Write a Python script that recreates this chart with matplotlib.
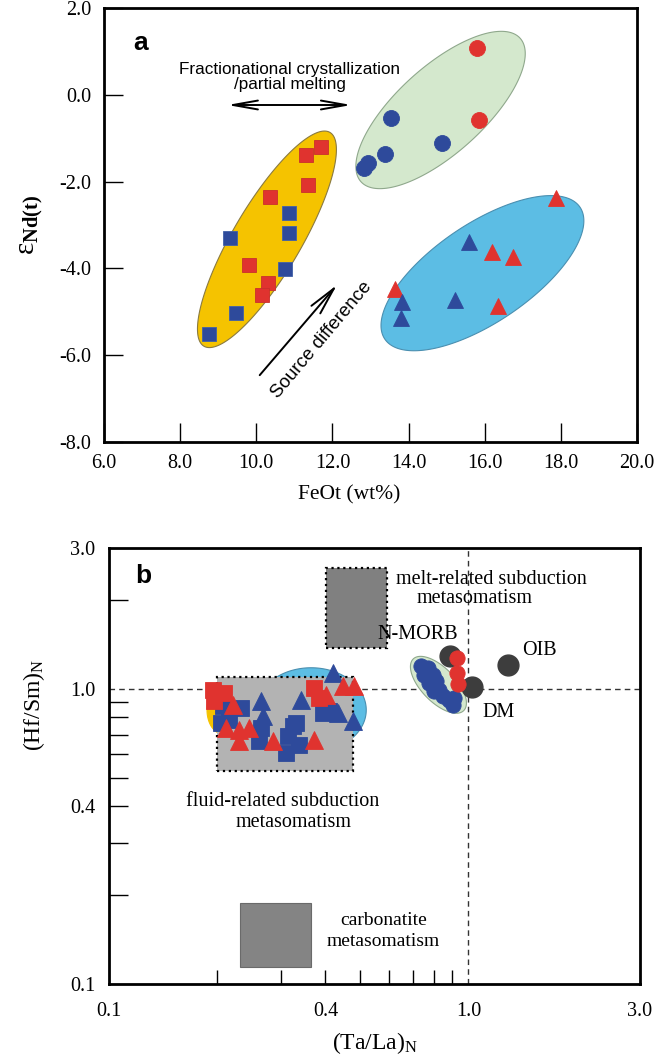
import numpy as np
import matplotlib
matplotlib.use("Agg")
import matplotlib.pyplot as plt
from matplotlib.patches import Polygon, Rectangle
from matplotlib.ticker import FixedLocator, FixedFormatter, NullFormatter

plt.rcParams['font.family'] = ['Liberation Serif', 'DejaVu Serif']
plt.rcParams['mathtext.fontset'] = 'custom'
plt.rcParams['mathtext.rm'] = 'Liberation Serif'
plt.rcParams['mathtext.it'] = 'Liberation Serif:italic'
plt.rcParams['mathtext.bf'] = 'Liberation Serif:bold'

RED = '#e0332f'
BLUE = '#2e4a9b'
YELLOW = '#f5c300'
GREEN = '#d4e8cd'
CYAN = '#5cbde4'
DARK = '#3d3d3d'

# ---------------- Panel a: FeOt vs eNd(t) ----------------
sq_red_feo = [11.69, 11.30, 11.35, 10.36, 9.82, 10.31, 10.16]
sq_red_end = [-1.20, -1.39, -2.08, -2.35, -3.92, -4.34, -4.61]
sq_blue_feo = [10.87, 10.87, 9.31, 10.76, 9.48, 8.75]
sq_blue_end = [-2.72, -3.18, -3.30, -4.01, -5.03, -5.51]
ci_red_feo = [15.80, 15.86]
ci_red_end = [1.08, -0.58]
ci_blue_feo = [13.54, 14.87, 13.39, 12.94, 12.83]
ci_blue_end = [-0.54, -1.12, -1.36, -1.57, -1.69]
tr_red_feo = [17.87, 16.20, 16.74, 13.65, 16.34]
tr_red_end = [-2.38, -3.62, -3.73, -4.48, -4.87]
tr_blue_feo = [15.60, 13.82, 15.21, 13.79]
tr_blue_end = [-3.39, -4.77, -4.73, -5.14]

a_xticks = [6.0, 8.0, 10.0, 12.0, 14.0, 16.0, 18.0, 20.0]
a_yticks = [-8.0, -6.0, -4.0, -2.0, 0.0, 2.0]

# field outlines: centre, two conjugate half-axes (data units)
field_yellow = ((10.28, -3.33), (1.64, 2.47), (0.80, -0.35))
field_green = ((14.84, -0.35), (2.06, 1.68), (0.84, -0.68))
field_cyan = ((15.94, -4.11), (2.535, 1.553), (0.819, -0.885))

# ---------------- Panel b: (Ta/La)N vs (Hf/Sm)N ----------------
b_sq_red_x = [0.195, 0.209, 0.196, 0.372, 0.384]
b_sq_red_y = [0.992, 0.969, 0.910, 1.008, 0.932]
b_sq_blue_x = [0.208, 0.233, 0.205, 0.216, 0.265, 0.262, 0.325, 0.315, 0.311, 0.338, 0.332, 0.394, 0.410]
b_sq_blue_y = [0.875, 0.862, 0.766, 0.784, 0.737, 0.665, 0.748, 0.692, 0.606, 0.645, 0.766, 0.829, 0.841]
b_tr_blue_x = [0.4205, 0.342, 0.265, 0.268, 0.434, 0.478]
b_tr_blue_y = [1.134, 0.917, 0.910, 0.809, 0.829, 0.778]
b_tr_red_x = [0.448, 0.479, 0.402, 0.221, 0.212, 0.230, 0.245, 0.230, 0.286, 0.372]
b_tr_red_y = [1.024, 1.024, 0.954, 0.882, 0.737, 0.725, 0.737, 0.665, 0.665, 0.670]
b_ci_blue_x = [0.740, 0.774, 0.754, 0.799, 0.814, 0.779, 0.830, 0.804, 0.852, 0.880, 0.914, 0.908]
b_ci_blue_y = [1.198, 1.179, 1.116, 1.116, 1.065, 1.048, 0.992, 0.984, 0.947, 0.917, 0.932, 0.882]
b_ci_red_x = [0.932, 0.932, 0.938]
b_ci_red_y = [1.275, 1.134, 1.040]

ref_names = ['N-MORB', 'OIB', 'DM']
ref_x = [0.891, 1.285, 1.026]
ref_y = [1.295, 1.207, 1.016]

# metasomatism boxes: (x0, x1, y0, y1)
box_melt = (0.402, 0.594, 1.379, 2.56)
box_fluid = (0.200, 0.478, 0.526, 1.099)
box_carb = (0.2315, 0.365, 0.114, 0.188)

b_major = [0.1, 0.4, 1.0, 3.0]
b_major_labels = ['0.1', '0.4', '1.0', '3.0']
b_xminor = [0.2, 0.3, 0.4, 0.5, 0.6, 0.7, 0.8, 0.9]
b_yminor = [0.2, 0.3, 0.4, 0.5, 0.6, 0.7, 0.8, 0.9, 2.0]

# fields in log10 space: centre, two conjugate half-axes
b_field_cyan = ((np.log10(0.365), np.log10(0.848)), (0.1533, 0.0), (0.0, 0.143))
b_field_yellow = ((np.log10(0.2076), np.log10(0.848)), (0.0446, 0.0), (0.0, 0.0817))
b_field_green = ((-0.0836, 0.0136), (0.0702, -0.0875), (0.0337, 0.0405))


def conj_ellipse(c, u, v, n=240):
    t = np.linspace(0, 2 * np.pi, n)
    x = c[0] + u[0] * np.cos(t) + v[0] * np.sin(t)
    y = c[1] + u[1] * np.cos(t) + v[1] * np.sin(t)
    return np.column_stack([x, y])


W, H = 667, 1059
fig = plt.figure(figsize=(W / 100, H / 100), dpi=100)

ax = fig.add_axes([104 / W, 1 - 442 / H, (637 - 104) / W, (442 - 8) / H])
for fld, fc, ec in [(field_yellow, YELLOW, '#8a7a40'),
                    (field_green, GREEN, '#8fa88c'),
                    (field_cyan, CYAN, '#4a8fb0')]:
    ax.add_patch(Polygon(conj_ellipse(*fld), closed=True, facecolor=fc,
                         edgecolor=ec, lw=0.8, zorder=1))

mk = dict(linestyle='none', markeredgewidth=0.6, zorder=3)
ax.plot(sq_red_feo, sq_red_end, 's', ms=10.5, color=RED, mec='#c9302c', **mk)
ax.plot(sq_blue_feo, sq_blue_end, 's', ms=10.5, color=BLUE, mec='#4060a8', **mk)
ax.plot(ci_red_feo, ci_red_end, 'o', ms=11.5, color=RED, mec=RED, **mk)
ax.plot(ci_blue_feo, ci_blue_end, 'o', ms=11.5, color=BLUE, mec=BLUE, **mk)
ax.plot(tr_red_feo, tr_red_end, '^', ms=11, color=RED, mec=RED, **mk)
ax.plot(tr_blue_feo, tr_blue_end, '^', ms=11, color=BLUE, mec=BLUE, **mk)

ax.annotate('', xy=(12.50, -0.235), xytext=(9.24, -0.235),
            arrowprops=dict(arrowstyle='<->,head_length=1.8,head_width=0.32',
                            lw=1.4, color='black', shrinkA=0, shrinkB=0))
ax.text(10.88, 0.40, 'Fractionational crystallization\n/partial melting',
        ha='center', va='center', fontsize=12.3, family='Liberation Sans',
        linespacing=1.0)
ax.annotate('', xy=(12.12, -4.38), xytext=(10.09, -6.46),
            arrowprops=dict(arrowstyle='->,head_length=2.0,head_width=0.42',
                            lw=1.4, color='black', shrinkA=0, shrinkB=0))
ax.text(11.71, -5.65, 'Source difference', rotation=50, ha='center', va='center',
        fontsize=13.5, family='Liberation Sans', rotation_mode='anchor')
ax.text(0.055, 0.92, 'a', transform=ax.transAxes, fontsize=19, fontweight='bold',
        family='Liberation Sans', ha='left', va='center')

ax.set_xlim(6, 20)
ax.set_ylim(-8, 2)
ax.set_xticks(a_xticks)
ax.set_xticklabels(['%.1f' % v for v in a_xticks])
ax.set_yticks(a_yticks)
ax.set_yticklabels(['%.1f' % v for v in a_yticks])
ax.tick_params(direction='in', length=14, width=1.0, labelsize=14.5)
ax.tick_params(axis='x', pad=9)
ax.tick_params(axis='y', pad=9)
for s in ax.spines.values():
    s.set_linewidth(2.0)
ax.set_xlabel('FeOt (wt%)', fontsize=15.5)
ax.xaxis.set_label_coords(0.46, -0.10)
ax.set_ylabel(r'$\mathrm{ε}_{\mathbf{Nd(t)}}$', fontsize=21)
ax.yaxis.set_label_coords(-0.11, 0.50)

# ---------------- Panel b ----------------
bx = fig.add_axes([109 / W, 1 - 984 / H, (640 - 109) / W, (984 - 548) / H])
bx.set_xscale('log')
bx.set_yscale('log')
bx.set_xlim(0.1, 3.0)
bx.set_ylim(0.1, 3.0)

bx.axvline(1.0, color='#333333', lw=1.0, ls=(0, (4, 3)), zorder=0.5)
bx.axhline(1.0, color='#333333', lw=1.0, ls=(0, (4, 3)), zorder=0.5)

for fld, fc, ec in [(b_field_cyan, CYAN, '#4a8fb0'),
                    (b_field_yellow, YELLOW, YELLOW),
                    (b_field_green, GREEN, '#8fa88c')]:
    pts = 10 ** conj_ellipse(*fld)
    bx.add_patch(Polygon(pts, closed=True, facecolor=fc, edgecolor=ec,
                         lw=0.8, zorder=1))

for (x0, x1, y0, y1), fc, style in [(box_melt, '#808080', ':'),
                                    (box_fluid, '#b3b3b3', ':'),
                                    (box_carb, '#848484', '-')]:
    bx.add_patch(Rectangle((x0, y0), x1 - x0, y1 - y0, facecolor=fc,
                           edgecolor='black' if style == ':' else '#6a6a6a',
                           lw=1.6 if style == ':' else 0.8, ls=style, zorder=1.5))

mkb = dict(linestyle='none', markeredgewidth=0.6, zorder=3)
bx.plot(b_sq_blue_x, b_sq_blue_y, 's', ms=12, color=BLUE, mec=BLUE, **mkb)
bx.plot(b_sq_red_x, b_sq_red_y, 's', ms=12, color=RED, mec=RED, **mkb)
bx.plot(b_tr_blue_x, b_tr_blue_y, '^', ms=13, color=BLUE, mec=BLUE, **mkb)
bx.plot(b_tr_red_x, b_tr_red_y, '^', ms=13, color=RED, mec=RED, **mkb)
bx.plot(ref_x, ref_y, 'o', ms=15, color=DARK, mec=DARK, linestyle='none', zorder=2.5)
bx.plot(b_ci_blue_x, b_ci_blue_y, 'o', ms=11, color=BLUE, mec=BLUE, **mkb)
bx.plot(b_ci_red_x, b_ci_red_y, 'o', ms=11, color=RED, mec=RED, **mkb)

TXT = 14.5
bx.text(1.159, 2.35, 'melt-related subduction', ha='center', va='center', fontsize=TXT, zorder=4)
bx.text(1.039, 2.025, 'metasomatism', ha='center', va='center', fontsize=TXT, zorder=4)
bx.text(0.721, 1.527, ref_names[0], ha='center', va='center', fontsize=TXT, zorder=4)
bx.text(1.578, 1.347, ref_names[1], ha='center', va='center', fontsize=TXT, zorder=4)
bx.text(1.212, 0.829, ref_names[2], ha='center', va='center', fontsize=TXT, zorder=4)
bx.text(0.305, 0.4157, 'fluid-related subduction', ha='center', va='center', fontsize=TXT, zorder=4)
bx.text(0.327, 0.3526, 'metasomatism', ha='center', va='center', fontsize=TXT, zorder=4)
bx.text(0.580, 0.1636, 'carbonatite', ha='center', va='center', fontsize=14, zorder=4)
bx.text(0.580, 0.1388, 'metasomatism', ha='center', va='center', fontsize=14, zorder=4)
bx.text(0.05, 0.935, 'b', transform=bx.transAxes, fontsize=19, fontweight='bold',
        family='Liberation Sans', ha='left', va='center')

for axis, minor in [(bx.xaxis, b_xminor), (bx.yaxis, b_yminor)]:
    axis.set_major_locator(FixedLocator(b_major))
    axis.set_major_formatter(FixedFormatter(b_major_labels))
    axis.set_minor_locator(FixedLocator(minor))
    axis.set_minor_formatter(NullFormatter())
    axis.remove_overlapping_locs = False
bx.tick_params(which='major', direction='in', length=0, labelsize=14.5)
bx.tick_params(axis='x', which='minor', direction='in', length=10, width=1.0)
bx.tick_params(axis='y', which='minor', direction='in', length=14, width=1.0)
bx.tick_params(axis='x', which='major', pad=13)
bx.tick_params(axis='y', which='major', pad=10)
for s in bx.spines.values():
    s.set_linewidth(2.0)
bx.set_xlabel(r'(Ta/La)$_{\mathrm{N}}$', fontsize=17)
bx.xaxis.set_label_coords(0.50, -0.105)
bx.set_ylabel(r'(Hf/Sm)$_{\mathrm{N}}$', fontsize=17)
bx.yaxis.set_label_coords(-0.117, 0.64)

fig.savefig('out.png', dpi=100)
